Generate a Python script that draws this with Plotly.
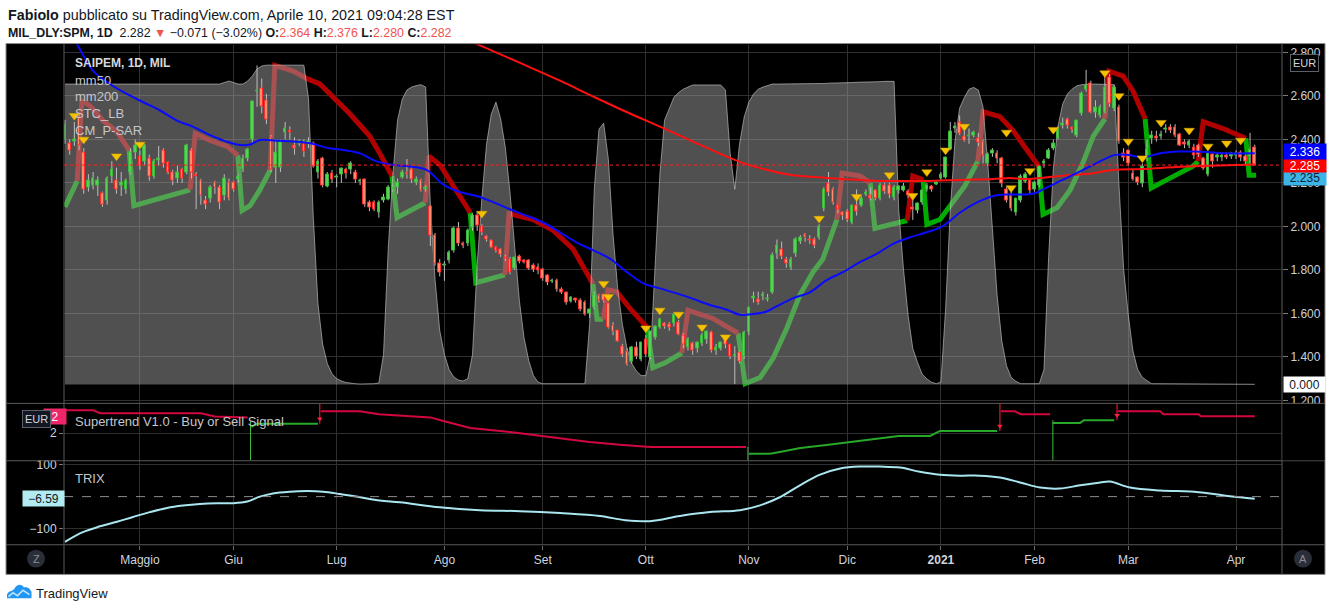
import plotly.graph_objects as go

W, H = 1335, 615
FONT = "Liberation Sans, Arial, sans-serif"


def fx(px):
    return px / W


def fy(py):
    return 1 - py / H


# ------------------------------------------------------------------ data
month_idx = [16, 36, 58, 81, 102, 124, 146, 167, 187, 207, 227, 250]
month_lbl = ["Maggio", "Giu", "Lug", "Ago", "Set", "Ott", "Nov", "Dic", "<b>2021</b>", "Feb", "Mar", "Apr"]
price_ticks = [1.2, 1.4, 1.6, 1.8, 2.0, 2.2, 2.4, 2.6, 2.8]

opens = [
    2.40, 2.38, 2.39, 2.50, 2.34, 2.18, 2.19, 2.19, 2.15, 2.12,
    2.23, 2.21, 2.19, 2.17, 2.25, 2.34, 2.32, 2.30, 2.31, 2.23,
    2.305, 2.35, 2.295, 2.25, 2.22, 2.26, 2.25, 2.35, 2.24, 2.21,
    2.12, 2.13, 2.20, 2.18, 2.14, 2.20, 2.20, 2.215, 2.26, 2.31,
    2.40, 2.62, 2.636, 2.58, 2.41, 2.27, 2.27, 2.43, 2.44, 2.37,
    2.38, 2.38, 2.38, 2.38, 2.25, 2.31, 2.185, 2.245, 2.225, 2.24,
    2.26, 2.26, 2.25, 2.205, 2.215, 2.11, 2.11, 2.065, 2.12, 2.125,
    2.17, 2.18, 2.225, 2.25, 2.26, 2.20, 2.21, 2.17, 2.09, 1.96,
    1.83, 1.82, 1.845, 1.89, 1.99, 1.92, 1.92, 1.995, 2.05, 2.00,
    1.955, 1.935, 1.905, 1.895, 1.855, 1.85, 1.806, 1.86, 1.843, 1.842,
    1.82, 1.81, 1.80, 1.776, 1.745, 1.75, 1.71, 1.697, 1.655, 1.668,
    1.66, 1.65, 1.60, 1.625, 1.682, 1.685, 1.647, 1.544, 1.52, 1.45,
    1.427, 1.38, 1.445, 1.39, 1.48, 1.397, 1.488, 1.536, 1.552, 1.55,
    1.552, 1.56, 1.50, 1.445, 1.46, 1.44, 1.46, 1.48, 1.51, 1.43,
    1.44, 1.485, 1.458, 1.40, 1.42, 1.40, 1.51, 1.67, 1.662, 1.677,
    1.665, 1.697, 1.874, 1.894, 1.85, 1.81, 1.874, 1.93, 1.962, 1.94,
    1.94, 1.947, 2.083, 2.197, 2.17, 2.094, 2.064, 2.07, 2.018, 2.098,
    2.097, 2.147, 2.142, 2.167, 2.13, 2.188, 2.19, 2.132, 2.165, 2.167,
    2.16, 2.087, 2.071, 2.11, 2.17, 2.182, 2.192, 2.218, 2.223, 2.355,
    2.45, 2.477, 2.415, 2.415, 2.42, 2.404, 2.39, 2.29, 2.333, 2.336,
    2.314, 2.17, 2.147, 2.064, 2.12, 2.208, 2.21, 2.17, 2.188, 2.288,
    2.314, 2.36, 2.405, 2.465, 2.49, 2.457, 2.42, 2.518, 2.629, 2.658,
    2.526, 2.51, 2.526, 2.685, 2.541, 2.548, 2.336, 2.348, 2.245, 2.223,
    2.197, 2.31, 2.405, 2.415, 2.415, 2.444, 2.456, 2.457, 2.424, 2.385,
    2.374, 2.364, 2.374, 2.31, 2.238, 2.33, 2.318, 2.318, 2.328, 2.32,
    2.325, 2.342, 2.32, 2.32, 2.364]

highs = [
    2.49, 2.40, 2.48, 2.52, 2.36, 2.24, 2.25, 2.23, 2.16, 2.23,
    2.30, 2.27, 2.25, 2.22, 2.36, 2.40, 2.35, 2.38, 2.33, 2.31,
    2.37, 2.36, 2.30, 2.26, 2.28, 2.27, 2.38, 2.36, 2.25, 2.22,
    2.14, 2.19, 2.21, 2.19, 2.24, 2.22, 2.21, 2.24, 2.33, 2.36,
    2.58, 2.74, 2.68, 2.61, 2.42, 2.40, 2.40, 2.48, 2.46, 2.41,
    2.40, 2.40, 2.41, 2.39, 2.31, 2.32, 2.25, 2.26, 2.24, 2.27,
    2.27, 2.30, 2.26, 2.22, 2.22, 2.12, 2.12, 2.12, 2.15, 2.19,
    2.19, 2.22, 2.26, 2.31, 2.28, 2.23, 2.22, 2.19, 2.10, 1.97,
    1.85, 1.84, 1.89, 2.00, 2.02, 1.93, 1.99, 2.06, 2.07, 2.01,
    1.96, 1.94, 1.91, 1.90, 1.87, 1.86, 1.86, 1.87, 1.85, 1.85,
    1.83, 1.83, 1.81, 1.78, 1.76, 1.76, 1.72, 1.70, 1.68, 1.67,
    1.67, 1.66, 1.62, 1.70, 1.69, 1.69, 1.65, 1.56, 1.52, 1.46,
    1.44, 1.45, 1.47, 1.47, 1.50, 1.52, 1.545, 1.58, 1.56, 1.56,
    1.60, 1.57, 1.51, 1.49, 1.47, 1.47, 1.51, 1.52, 1.52, 1.46,
    1.47, 1.49, 1.46, 1.45, 1.43, 1.52, 1.63, 1.70, 1.70, 1.70,
    1.69, 1.88, 1.94, 1.93, 1.86, 1.86, 1.95, 1.96, 1.97, 1.96,
    1.95, 2.01, 2.18, 2.25, 2.18, 2.10, 2.07, 2.08, 2.10, 2.17,
    2.14, 2.17, 2.18, 2.17, 2.20, 2.20, 2.20, 2.19, 2.19, 2.20,
    2.17, 2.14, 2.11, 2.17, 2.20, 2.19, 2.21, 2.25, 2.32, 2.48,
    2.48, 2.51, 2.44, 2.45, 2.44, 2.43, 2.40, 2.34, 2.36, 2.35,
    2.32, 2.18, 2.16, 2.13, 2.24, 2.25, 2.22, 2.21, 2.28, 2.31,
    2.36, 2.40, 2.46, 2.50, 2.50, 2.46, 2.49, 2.62, 2.72, 2.67,
    2.58, 2.56, 2.69, 2.70, 2.65, 2.56, 2.36, 2.35, 2.26, 2.23,
    2.29, 2.40, 2.44, 2.44, 2.44, 2.47, 2.47, 2.47, 2.43, 2.40,
    2.40, 2.38, 2.38, 2.32, 2.34, 2.34, 2.34, 2.34, 2.34, 2.34,
    2.35, 2.35, 2.33, 2.43, 2.376]

lows = [
    2.38, 2.33, 2.37, 2.35, 2.15, 2.16, 2.17, 2.14, 2.09, 2.10,
    2.20, 2.15, 2.14, 2.15, 2.24, 2.31, 2.26, 2.28, 2.21, 2.22,
    2.28, 2.27, 2.24, 2.19, 2.20, 2.20, 2.24, 2.22, 2.08, 2.10,
    2.08, 2.11, 2.15, 2.08, 2.12, 2.12, 2.16, 2.20, 2.25, 2.30,
    2.38, 2.55, 2.52, 2.47, 2.25, 2.20, 2.25, 2.40, 2.40, 2.33,
    2.37, 2.32, 2.36, 2.27, 2.22, 2.18, 2.18, 2.20, 2.18, 2.20,
    2.22, 2.24, 2.20, 2.19, 2.09, 2.07, 2.07, 2.04, 2.11, 2.12,
    2.16, 2.15, 2.22, 2.22, 2.20, 2.19, 2.16, 2.16, 1.91, 1.82,
    1.77, 1.75, 1.83, 1.88, 1.91, 1.90, 1.91, 1.98, 1.98, 1.96,
    1.93, 1.90, 1.88, 1.86, 1.84, 1.78, 1.80, 1.83, 1.83, 1.80,
    1.79, 1.78, 1.75, 1.73, 1.74, 1.70, 1.69, 1.64, 1.65, 1.65,
    1.61, 1.59, 1.58, 1.62, 1.65, 1.65, 1.53, 1.50, 1.47, 1.40,
    1.36, 1.37, 1.39, 1.38, 1.40, 1.39, 1.48, 1.53, 1.53, 1.52,
    1.54, 1.50, 1.44, 1.43, 1.41, 1.42, 1.45, 1.46, 1.42, 1.41,
    1.43, 1.44, 1.39, 1.275, 1.37, 1.39, 1.50, 1.65, 1.64, 1.66,
    1.655, 1.69, 1.85, 1.85, 1.81, 1.80, 1.86, 1.92, 1.93, 1.92,
    1.90, 1.94, 2.07, 2.14, 2.10, 2.06, 2.03, 2.02, 2.01, 2.05,
    2.09, 2.14, 2.12, 2.12, 2.12, 2.15, 2.13, 2.12, 2.15, 2.16,
    2.13, 2.03, 2.06, 2.10, 2.16, 2.16, 2.19, 2.21, 2.22, 2.35,
    2.43, 2.42, 2.39, 2.38, 2.41, 2.37, 2.29, 2.28, 2.32, 2.29,
    2.18, 2.11, 2.07, 2.05, 2.11, 2.20, 2.15, 2.16, 2.18, 2.27,
    2.31, 2.35, 2.40, 2.45, 2.45, 2.43, 2.41, 2.51, 2.62, 2.52,
    2.50, 2.50, 2.52, 2.55, 2.53, 2.38, 2.30, 2.28, 2.21, 2.19,
    2.18, 2.30, 2.38, 2.39, 2.40, 2.43, 2.43, 2.41, 2.37, 2.36,
    2.36, 2.31, 2.32, 2.26, 2.23, 2.27, 2.30, 2.30, 2.31, 2.31,
    2.31, 2.30, 2.28, 2.29, 2.280]

closes = [
    2.47, 2.35, 2.40, 2.37, 2.17, 2.21, 2.22, 2.21, 2.10, 2.22,
    2.26, 2.17, 2.20, 2.21, 2.34, 2.37, 2.28, 2.37, 2.23, 2.30,
    2.31, 2.29, 2.25, 2.21, 2.25, 2.22, 2.37, 2.25, 2.23, 2.14,
    2.10, 2.18, 2.18, 2.11, 2.22, 2.13, 2.17, 2.23, 2.31, 2.355,
    2.576, 2.625, 2.55, 2.49, 2.26, 2.34, 2.385, 2.45, 2.43, 2.36,
    2.39, 2.345, 2.39, 2.275, 2.30, 2.19, 2.24, 2.215, 2.23, 2.265,
    2.245, 2.29, 2.215, 2.21, 2.10, 2.085, 2.08, 2.11, 2.135, 2.18,
    2.18, 2.20, 2.25, 2.24, 2.215, 2.215, 2.165, 2.18, 1.96, 1.83,
    1.79, 1.825, 1.88, 1.99, 1.92, 1.91, 1.98, 2.05, 2.005, 1.97,
    1.94, 1.905, 1.89, 1.87, 1.852, 1.786, 1.855, 1.84, 1.836, 1.806,
    1.80, 1.795, 1.76, 1.742, 1.75, 1.71, 1.697, 1.65, 1.673, 1.66,
    1.62, 1.597, 1.617, 1.685, 1.658, 1.658, 1.533, 1.518, 1.473, 1.41,
    1.364, 1.445, 1.40, 1.465, 1.412, 1.518, 1.54, 1.572, 1.54, 1.535,
    1.594, 1.503, 1.455, 1.48, 1.43, 1.465, 1.50, 1.515, 1.43, 1.445,
    1.465, 1.455, 1.40, 1.41, 1.38, 1.51, 1.625, 1.68, 1.652, 1.685,
    1.67, 1.867, 1.912, 1.86, 1.83, 1.85, 1.94, 1.95, 1.947, 1.935,
    1.912, 2.00, 2.17, 2.155, 2.112, 2.079, 2.05, 2.033, 2.094, 2.067,
    2.13, 2.155, 2.13, 2.13, 2.19, 2.162, 2.147, 2.177, 2.182, 2.185,
    2.142, 2.076, 2.105, 2.167, 2.19, 2.17, 2.20, 2.238, 2.318, 2.435,
    2.458, 2.427, 2.397, 2.42, 2.43, 2.385, 2.325, 2.33, 2.348, 2.314,
    2.197, 2.12, 2.083, 2.127, 2.23, 2.238, 2.165, 2.20, 2.276, 2.298,
    2.348, 2.382, 2.45, 2.473, 2.465, 2.445, 2.485, 2.609, 2.647, 2.526,
    2.545, 2.548, 2.639, 2.564, 2.639, 2.39, 2.318, 2.29, 2.215, 2.203,
    2.276, 2.355, 2.42, 2.405, 2.424, 2.448, 2.44, 2.42, 2.374, 2.375,
    2.39, 2.324, 2.33, 2.268, 2.336, 2.30, 2.325, 2.326, 2.318, 2.333,
    2.336, 2.318, 2.298, 2.353, 2.282]

# mm50 / mm200 (bar index, price)
mm50_idx = [0, 2.6, 6.0, 9.6, 13.2, 16.7, 20.3, 23.8, 27.4, 31.0,
            34.5, 37.4, 39.5, 41.6, 45.2, 48.7, 52.3, 55.9, 59.4, 63.0,
            66.5, 70.1, 73.7, 77.2, 80.8, 84.3, 87.9, 91.4, 95.0, 98.6,
            102.1, 105.7, 109.2, 112.8, 116.4, 119.9, 123.5, 127.0, 130.6, 134.1,
            137.7, 141.3, 144.1, 146.9, 149.8, 151.9, 155.5, 159.0, 162.6, 166.2,
            169.7, 173.3, 176.8, 180.4, 184.0, 187.5, 191.1, 194.6, 198.2, 201.7,
            205.3, 207.4, 208.8, 212.4, 216.0, 219.5, 222.4, 224.2, 226.7, 230.2,
            233.8, 237.3, 240.9, 244.4, 248.0, 254.0]
mm50_val = [2.92, 2.836, 2.715, 2.655, 2.609, 2.571, 2.533, 2.488, 2.458, 2.42,
            2.39, 2.374, 2.377, 2.397, 2.394, 2.39, 2.382, 2.362, 2.351, 2.336,
            2.299, 2.283, 2.276, 2.26, 2.192, 2.158, 2.14, 2.112, 2.079, 2.049,
            2.018, 1.973, 1.927, 1.89, 1.851, 1.791, 1.738, 1.715, 1.692, 1.667,
            1.639, 1.617, 1.594, 1.597, 1.609, 1.632, 1.67, 1.697, 1.753, 1.791,
            1.836, 1.874, 1.92, 1.95, 1.973, 2.003, 2.064, 2.109, 2.14, 2.147,
            2.147, 2.155, 2.17, 2.208, 2.245, 2.283, 2.314, 2.329, 2.329, 2.318,
            2.336, 2.344, 2.344, 2.341, 2.336, 2.336]
mm200_idx = [80.0, 88.2, 91.4, 98.6, 105.7, 112.8, 119.9, 127.0, 134.1, 141.3,
             144.8, 148.4, 155.5, 162.6, 169.7, 176.8, 184.0, 191.1, 198.2, 201.7,
             205.3, 212.4, 219.5, 223.8, 230.2, 237.3, 244.4, 254.0]
mm200_val = [2.91, 2.836, 2.806, 2.738, 2.67, 2.597, 2.526, 2.459, 2.39, 2.321,
             2.291, 2.268, 2.235, 2.223, 2.214, 2.209, 2.209, 2.214, 2.218, 2.223,
             2.218, 2.232, 2.245, 2.26, 2.264, 2.273, 2.279, 2.285]

# STC_LB oscillator (0-100), one value per bar
stc_val = [
    100, 100, 100, 100, 100, 100, 100, 100, 100, 100,
    100, 100, 100, 100, 100, 100, 100, 100, 100, 100,
    100, 100, 100, 100, 100, 100, 100, 100, 100, 100,
    100, 100, 100, 100, 100.5, 101, 100.5, 100, 100, 101,
    102.7, 105, 106, 106.3, 106.3, 106.3, 106.3, 106.3, 106.3, 106.3,
    106.3, 106.3, 95, 56, 27, 13.5, 7, 3.6, 2, 1.2,
    0.7, 0.4, 0.3, 0.2, 0.2, 0.2, 0.3, 0.5, 10, 45,
    70, 88, 95, 98, 99, 99.5, 99.8, 99, 60, 35,
    18, 10, 5, 2.5, 1.5, 1.2, 2, 10, 40, 62,
    80, 90, 94, 88.5, 79, 64, 45, 28, 15.6, 8,
    3, 0.8, 0.3, 0.3, 0.3, 0.3, 0.3, 0.3, 0.3, 0.3,
    0.3, 0.3, 20, 65, 85, 87, 75, 50, 32, 20,
    12, 7, 4.5, 3, 3, 10, 40, 70, 88, 92,
    95.6, 97.2, 98.3, 99, 99.7, 99.7, 99.7, 99.7, 99.7, 99.7,
    99.7, 98, 77, 65, 80, 89, 94, 96.7, 98.3, 99,
    99.6, 100, 100, 100, 100, 100, 100, 100, 100, 100,
    100, 100.2, 100.2, 100.3, 100.3, 100.4, 100.4, 100.5, 100.5, 100.6,
    100.6, 100.7, 100.7, 100.8, 100.8, 100.9, 100.9, 100.9, 58, 38.6,
    23, 12, 7.4, 3.5, 1.9, 0.8, 0.3, 0.8, 25, 58,
    81, 92, 95.5, 98.3, 98.9, 98, 92.3, 73.7, 51.8, 29.8,
    14.5, 6.3, 2.4, 1.1, 0.3, 0.3, 0.3, 0.3, 0.3, 5,
    42.5, 72, 86, 93.4, 96.7, 98.3, 99.4, 99.8, 100, 100,
    100, 100, 100, 100, 99.8, 67, 38.6, 23.2, 11.2, 5.1,
    2.4, 1.3, 0.3, 0.3, 0.3, 0.3, 0.3, 0.3, 0.2, 0.2,
    0.2, 0.2, 0.2, 0.2, 0.2, 0.2, 0.1, 0.1, 0.1, 0.1,
    0.1, 0.1, 0.1, 0.1, 0.1]

# CM_P-SAR style trailing stop (bar index, price, trend +1 bull / -1 bear)
stop_idx = [0, 2.6, 3.6, 5.3, 8.1, 11.1, 13.7, 14.7, 26.7, 27.8, 31.0, 34.6, 36.9,
            37.8, 39.5, 41.6, 43.8, 44.8, 48.7, 51.9, 54.4, 57.2, 60.8, 64.0, 65.1, 67.2, 69.8,
            70.9, 76.9, 77.7, 80.1, 82.8, 86.5, 87.7, 93.9, 94.8, 99.9, 104.2, 108.5, 112.7,
            113.6, 114.9, 115.9, 117.8, 120.6, 124.3, 125.5, 128.1, 131.7, 133.0, 138.3, 143.7,
            145.2, 148.4, 151.2, 154.1, 156.9, 159.7, 161.8, 164.8, 165.9, 169.7, 171.9,
            172.9, 179.8, 181.0, 183.2, 184.0, 186.8, 189.6, 192.1, 194.9,
            196.0, 199.6, 202.4, 205.4, 207.9, 208.8, 211.8, 214.6, 217.3, 219.5, 222.0,
            222.9, 225.9, 228.0, 230.6, 231.9, 235.2, 240.8, 241.9, 243.0, 247.2, 252.1,
            252.8, 254.3]
stop_val = [2.09, 2.209, 2.577, 2.555, 2.486, 2.436, 2.35, 2.095, 2.168, 2.427, 2.395, 2.368, 2.327,
            2.073, 2.095, 2.168, 2.259, 2.741, 2.714, 2.677, 2.655, 2.595, 2.518, 2.441, 2.414, 2.336, 2.232,
            2.041, 2.109, 2.323, 2.282, 2.186, 2.064, 1.741, 1.777, 2.059, 2.032, 1.982, 1.895, 1.736,
            1.573, 1.573, 1.709, 1.70, 1.623, 1.536, 1.35, 1.373, 1.418, 1.614, 1.577, 1.509,
            1.277, 1.305, 1.395, 1.532, 1.686, 1.791, 1.85, 2.032, 2.245, 2.232, 2.20,
            1.991, 2.027, 2.232, 2.214, 2.009, 2.032, 2.109, 2.186, 2.30,
            2.527, 2.505, 2.441, 2.35, 2.277, 2.055, 2.086, 2.168, 2.291, 2.414, 2.495,
            2.714, 2.691, 2.623, 2.495, 2.177, 2.214, 2.277, 2.30, 2.482, 2.45, 2.405,
            2.235, 2.235]
stop_trend = [1, 1, -1, -1, -1, -1, -1, 1, 1, -1, -1, -1, -1,
              1, 1, 1, 1, -1, -1, -1, -1, -1, -1, -1, -1, -1, -1,
              1, 1, -1, -1, -1, -1, 1, 1, -1, -1, -1, -1, -1,
              1, 1, -1, -1, -1, -1, 1, 1, 1, -1, -1, -1,
              1, 1, 1, 1, 1, 1, 1, 1, -1, -1, -1,
              1, 1, -1, -1, 1, 1, 1, 1, 1,
              -1, -1, -1, -1, -1, 1, 1, 1, 1, 1, 1,
              -1, -1, -1, -1, 1, 1, 1, 1, -1, -1, -1,
              1, 1]

# yellow triangle signals (bar index, price)
tri_idx = [2, 4, 11, 16, 89, 115, 116, 124, 127, 131, 136, 141, 161, 169, 176, 181,
           184, 188, 192, 201, 202, 206, 211, 222, 225, 227, 230, 234, 240, 244, 248, 251]
tri_val = [2.509, 2.40, 2.323, 2.377, 2.059, 1.736, 1.677, 1.532, 1.614, 1.595, 1.536, 1.491,
           2.036, 2.136, 2.236, 2.141, 2.25, 2.35, 2.459, 2.432, 2.177, 2.255, 2.445, 2.705,
           2.60, 2.391, 2.314, 2.477, 2.441, 2.368, 2.382, 2.395]

# Supertrend V1.0
st_idx = [0, 6, 7.5, 29, 32, 39,
          39.8, 41, 54,
          54.6, 63, 67, 78, 81, 86.5, 95, 105.7, 112, 118.5, 125, 145.4,
          146, 150.5, 152.6, 157, 163, 169.7, 174, 178, 184.7, 186.8, 199,
          199.8, 202.8, 204, 210.3,
          210.9, 216.7, 217.5, 224,
          224.8, 233.8, 234.5, 242, 242.5, 254]
st_val = [2.64, 2.64, 2.556, 2.556, 2.465, 2.44,
          2.17, 2.26, 2.26,
          2.61, 2.61, 2.53, 2.44, 2.33, 2.14, 2.03, 1.86, 1.75, 1.67, 1.61, 1.61,
          1.42, 1.42, 1.47, 1.58, 1.67, 1.78, 1.86, 1.92, 1.92, 2.06, 2.06,
          2.61, 2.61, 2.53, 2.53,
          2.28, 2.28, 2.36, 2.36,
          2.61, 2.61, 2.53, 2.53, 2.47, 2.47]
st_trend = [-1, -1, -1, -1, -1, -1,
            1, 1, 1,
            -1, -1, -1, -1, -1, -1, -1, -1, -1, -1, -1, -1,
            1, 1, 1, 1, 1, 1, 1, 1, 1, 1, 1,
            -1, -1, -1, -1,
            1, 1, 1, 1,
            -1, -1, -1, -1, -1, -1]
st_sig_idx = [39.6, 54.4, 145.8, 199.6, 210.9, 224.6]
st_sig_dir = [1, -1, 1, -1, 1, -1]
st_sig_val = [2.33, 2.26, 1.61, 2.06, 2.36, 2.36]

# TRIX
trix_idx = [0, 3.8, 7.5, 11.1, 14.5, 18.1, 21.8, 25.2, 28.8, 32.5,
            35.9, 38.9, 41.6, 44.4, 48.0, 51.7, 55.1, 58.7, 63.0, 67.2,
            71.5, 80.0, 88.6, 97.1, 105.7, 114.2, 119.6, 124.9, 131.3, 137.7,
            144.1, 148.4, 152.6, 156.9, 161.2, 165.5, 169.7, 174.0, 178.3, 182.5,
            186.8, 191.1, 195.3, 199.6, 203.9, 208.2, 212.4, 216.7, 221.0, 223.1,
            227.4, 233.8, 240.2, 244.4, 248.7, 254.0]
trix_val = [-140, -110, -92, -78, -63, -48, -35, -27.6, -22.7, -20.5,
            -20.5, -15.3, 0, 10, 15.3, 17.2, 15.3, 8, -2, -12,
            -17.5, -33, -42, -45, -51, -60, -73, -76, -60, -48,
            -42, -27, -2, 35, 68, 87, 93, 93, 90, 77,
            68, 65, 65, 59, 44, 28, 25, 35, 44, 47,
            28, 19, 16, 10, 1, -6.59]

# ------------------------------------------------------------------ geometry
PL, PRX = 64, 1282
MAIN = (42, 405)
STP = (405, 463)
TRP = (463, 548)
X_RANGE = [-0.2135, 259.82]
P_RANGE = [1.18636, 2.83636]
STC_RANGE = [-6.25, 113.16]
ST_RANGE = [1.2222, 2.8333]
TR_RANGE = [-149.16, 111.18]


def vpy(v, pane, rng):
    return pane[0] + (rng[1] - v) / (rng[1] - rng[0]) * (pane[1] - pane[0])


GRID = "#2f2f2f"
SEP = "#5a5a5a"
TXT = "#d1d4dc"
RED_TXT = "#ef5350"

n = len(closes)
xs = list(range(n))


def make_runs(xv, yv, tv, connect):
    runs = []
    for k in range(min(len(xv), len(yv), len(tv))):
        if k == 0 or tv[k] != tv[k - 1]:
            pts = [(xv[k - 1], yv[k - 1])] if (connect and k > 0) else []
            runs.append([tv[k], pts])
        runs[-1][1].append((xv[k], yv[k]))
    return runs


def join_runs(runs, t):
    X, Y = [], []
    for tt, pts in runs:
        if tt != t:
            continue
        X += [p[0] for p in pts] + [None]
        Y += [p[1] for p in pts] + [None]
    return X, Y


fig = go.Figure()

# 1) thick trailing stop (bottom layer, main subplot)
stop_runs = make_runs(stop_idx, stop_val, stop_trend, True)
for t, col in [(1, "rgb(0,172,0)"), (-1, "rgb(178,0,0)")]:
    X, Y = join_runs(stop_runs, t)
    fig.add_trace(go.Scatter(x=X, y=Y, mode="lines", line=dict(color=col, width=5),
                             xaxis="x", yaxis="y", hoverinfo="skip"))

# 2) STC area (semi transparent, overlays the stop lines)
fig.add_trace(go.Scatter(x=xs, y=stc_val, mode="lines", fill="tozeroy",
                         fillcolor="rgba(160,160,160,0.5)",
                         line=dict(color="rgba(205,205,205,0.6)", width=1),
                         xaxis="x", yaxis="y2", hoverinfo="skip"))

# 3) wicks
wx, wy = [], []
for i in range(n):
    wx += [i, i, None]
    wy += [lows[i], highs[i], None]
fig.add_trace(go.Scatter(x=wx, y=wy, mode="lines", line=dict(color="#bdbdbd", width=1),
                         xaxis="x", yaxis="y3", hoverinfo="skip"))

# 4) candle bodies + averages + triangles
inc = [c >= o for o, c in zip(opens, closes)]
base = [min(o, c) for o, c in zip(opens, closes)]
hgt = [max(abs(c - o), 0.003) for o, c in zip(opens, closes)]
fig.add_trace(go.Bar(x=xs, y=hgt, base=base, width=0.56,
                     marker=dict(color=["#57d157" if u else "#ff8d6e" for u in inc],
                                 line=dict(color=["#3cb83c" if u else "#ff2b2b" for u in inc], width=1)),
                     xaxis="x", yaxis="y4", hoverinfo="skip"))
fig.add_trace(go.Scatter(x=mm200_idx, y=mm200_val, mode="lines", line=dict(color="#ff1010", width=2, shape="spline"),
                         xaxis="x", yaxis="y4", hoverinfo="skip"))
fig.add_trace(go.Scatter(x=mm50_idx, y=mm50_val, mode="lines", line=dict(color="#0a0aff", width=2, shape="spline"),
                         xaxis="x", yaxis="y4", hoverinfo="skip"))
fig.add_trace(go.Scatter(x=tri_idx, y=tri_val, mode="markers",
                         marker=dict(symbol="triangle-down", size=9, color="#f6c200",
                                     line=dict(color="#d9a400", width=0.5)),
                         xaxis="x", yaxis="y4", hoverinfo="skip"))

# 5) Supertrend pane
st_runs = make_runs(st_idx, st_val, st_trend, False)
for t, col in [(1, "#28a828"), (-1, "#d2073f")]:
    X, Y = join_runs(st_runs, t)
    fig.add_trace(go.Scatter(x=X, y=Y, mode="lines", line=dict(color=col, width=2),
                             xaxis="x2", yaxis="y5", hoverinfo="skip"))
sx, sy, ax_, ay_ = [], [], [], []
for i, d, v in zip(st_sig_idx, st_sig_dir, st_sig_val):
    if d > 0:
        sx += [i, i, None]
        sy += [v, ST_RANGE[0], None]
for i, d, v in zip(st_sig_idx, st_sig_dir, st_sig_val):
    if d < 0:
        ax_ += [i, i, None]
        ay_ += [ST_RANGE[1], v, None]
fig.add_trace(go.Scatter(x=sx, y=sy, mode="lines", line=dict(color="#3cbf3c", width=1),
                         xaxis="x2", yaxis="y5", hoverinfo="skip"))
fig.add_trace(go.Scatter(x=ax_, y=ay_, mode="lines", line=dict(color="#ff1f3f", width=1),
                         xaxis="x2", yaxis="y5", hoverinfo="skip"))
fig.add_trace(go.Scatter(x=[i for i, d in zip(st_sig_idx, st_sig_dir) if d < 0],
                         y=[v + 0.14 for v, d in zip(st_sig_val, st_sig_dir) if d < 0],
                         mode="markers", marker=dict(symbol="triangle-down", size=5, color="#ff1f3f"),
                         xaxis="x2", yaxis="y5", hoverinfo="skip"))

# 6) TRIX pane
fig.add_trace(go.Scatter(x=trix_idx, y=trix_val, mode="lines",
                         line=dict(color="#a9e6f0", width=2, shape="spline"),
                         xaxis="x3", yaxis="y6", hoverinfo="skip"))

# ------------------------------------------------------------------ layout
xcommon = dict(domain=[fx(PL), fx(PRX)], range=X_RANGE, tickvals=month_idx, showgrid=True,
               gridcolor=GRID, gridwidth=1, zeroline=False, showline=False, fixedrange=True)
fig.update_layout(
    width=W, height=H, autosize=False,
    margin=dict(l=0, r=0, t=0, b=0, pad=0),
    paper_bgcolor="white", plot_bgcolor="rgba(0,0,0,0)",
    showlegend=False, hovermode=False, bargap=0,
    font=dict(family=FONT, color=TXT, size=12),
    xaxis=dict(**xcommon, anchor="y", showticklabels=False, ticks=""),
    xaxis2=dict(**xcommon, anchor="y5", matches="x", showticklabels=False, ticks=""),
    xaxis3=dict(**xcommon, anchor="y6", matches="x", showticklabels=True, ticktext=month_lbl,
                ticks="outside", ticklen=4, tickcolor="#6b6b6b",
                tickfont=dict(size=12, color=TXT, family=FONT)),
    yaxis=dict(domain=[fy(MAIN[1]), fy(MAIN[0])], range=P_RANGE, anchor="x", side="right",
               tickvals=price_ticks, ticktext=["%.3f" % v for v in price_ticks],
               ticks="outside", ticklen=5, tickcolor="#7a7a7a", showgrid=True, gridcolor=GRID,
               zeroline=False, showline=False, fixedrange=True,
               tickfont=dict(size=12, color="#cfd1d6", family=FONT)),
    yaxis2=dict(overlaying="y", anchor="x", range=STC_RANGE, visible=False, fixedrange=True),
    yaxis3=dict(overlaying="y", anchor="x", range=P_RANGE, visible=False, fixedrange=True),
    yaxis4=dict(overlaying="y", anchor="x", range=P_RANGE, visible=False, fixedrange=True),
    yaxis5=dict(domain=[fy(STP[1]), fy(STP[0])], range=ST_RANGE, anchor="x2", side="left",
                tickvals=[2], ticktext=["2"], ticks="outside", ticklen=4, tickcolor="#7a7a7a",
                showgrid=True, gridcolor=GRID, zeroline=False, showline=False, fixedrange=True,
                tickfont=dict(size=12, color=TXT, family=FONT)),
    yaxis6=dict(domain=[fy(TRP[1]), fy(TRP[0])], range=TR_RANGE, anchor="x3", side="left",
                tickvals=[100, -100], ticktext=["100", "\u2212100"], ticks="outside", ticklen=4,
                tickcolor="#7a7a7a", showgrid=True, gridcolor=GRID, zeroline=False, showline=False,
                fixedrange=True, tickfont=dict(size=12, color=TXT, family=FONT)),
)

# ------------------------------------------------------------------ shapes
shapes = []
shapes.append(dict(type="rect", xref="paper", yref="paper", x0=fx(6), x1=fx(1325), y0=fy(578), y1=fy(41),
                   fillcolor="black", line=dict(color="#8c8c8c", width=1), layer="below"))
for yy in (405, 463, 548):
    shapes.append(dict(type="line", xref="paper", yref="paper", x0=fx(6), x1=fx(1325), y0=fy(yy), y1=fy(yy),
                       line=dict(color=SEP, width=1), layer="above"))
for xx in (PL, PRX):
    shapes.append(dict(type="line", xref="paper", yref="paper", x0=fx(xx), x1=fx(xx), y0=fy(41), y1=fy(578),
                       line=dict(color=SEP, width=1), layer="above"))
# cover of the right scale inside the supertrend pane
shapes.append(dict(type="rect", xref="paper", yref="paper", x0=fx(1282.6), x1=fx(1324.4), y0=fy(462.5), y1=fy(405.6),
                   fillcolor="black", line=dict(width=0), layer="above"))
# last price dotted line
shapes.append(dict(type="line", xref="paper", yref="y", x0=fx(PL), x1=fx(PRX), y0=closes[-1], y1=closes[-1],
                   line=dict(color="#ff2020", width=1, dash="dot"), layer="above"))
# TRIX zero line
shapes.append(dict(type="line", xref="paper", yref="y6", x0=fx(PL), x1=fx(PRX), y0=0, y1=0,
                   line=dict(color="#8d8d8d", width=1, dash="dash"), layer="above"))
# Z / A buttons
for cx in (36, 1303):
    shapes.append(dict(type="circle", xref="paper", yref="paper", x0=fx(cx - 9), x1=fx(cx + 9),
                       y0=fy(571), y1=fy(553), fillcolor="#2a2e39", line=dict(width=0), layer="above"))


def path(points, close=True):
    s = "M " + " L ".join("%.5f,%.5f" % (fx(x), fy(y)) for x, y in points)
    return s + (" Z" if close else "")


cloud = [(7, 602), (7, 598), (9, 595.5), (12, 594.5), (14, 593), (16, 590), (19, 588.5), (22, 589),
         (24, 591), (27, 591), (29.5, 592.5), (31.5, 595.5), (31.5, 602)]
shapes.append(dict(type="path", xref="paper", yref="paper", path=path(cloud), fillcolor="#2196f3",
                   line=dict(width=0), layer="above"))
shapes.append(dict(type="path", xref="paper", yref="paper",
                   path=path([(8.5, 600.5), (13, 596.5), (17.5, 599.5), (23, 594), (29.5, 598.5)], close=False),
                   line=dict(color="#bfe3ff", width=1.6), layer="above"))
fig.update_layout(shapes=shapes)

# ------------------------------------------------------------------ annotations
anns = []


def ann(text, x, y, size=13, color=TXT, xanchor="left", **kw):
    d = dict(text=text, x=fx(x), y=fy(y), xref="paper", yref="paper", showarrow=False,
             font=dict(size=size, color=color, family=FONT), xanchor=xanchor, yanchor="middle")
    d.update(kw)
    return d


o, h, l, c = opens[-1], highs[-1], lows[-1], closes[-1]
chg = c - closes[-2]
pct = chg / closes[-2] * 100
sp = "\u00a0"
anns.append(ann("<b>FabioIo</b> pubblicato su TradingView.com, Aprile 10, 2021 09:04:28 EST", 6, 12,
                size=14.3, color="#131722"))
line2 = ("<b>MIL_DLY:SPM, 1D</b>" + sp + sp + "%.3f " % c +
         '<span style="color:%s">\u25bc</span> ' % RED_TXT +
         "\u2212%.3f (\u2212%.2f%%) " % (abs(chg), abs(pct)) +
         '<b>O:</b><span style="color:%s">%.3f</span> ' % (RED_TXT, o) +
         '<b>H:</b><span style="color:%s">%.3f</span> ' % (RED_TXT, h) +
         '<b>L:</b><span style="color:%s">%.3f</span> ' % (RED_TXT, l) +
         '<b>C:</b><span style="color:%s">%.3f</span>' % (RED_TXT, c))
anns.append(ann(line2, 6, 30, size=12.4, color="#131722"))

# pane legends
anns.append(ann("<b>SAIPEM, 1D, MIL</b>", 73, 61, size=12, color="#d6d8dd"))
for txt, yy in [("mm50", 78), ("mm200", 95), ("STC_LB", 112), ("CM_P-SAR", 129)]:
    anns.append(ann(txt, 73, yy, size=13, color="#c4c6cb"))
anns.append(ann("Supertrend V1.0 - Buy or Sell Signal", 73, 423, size=13, color="#c4c6cb"))
anns.append(ann("TRIX", 73, 481, size=13, color="#c4c6cb"))

# right scale value boxes (stacked like the TradingView price scale)
anns.append(ann("%.3f" % mm50_val[-1], 1283, 151, size=12, color="#ffffff",
                bgcolor="#0000ff", width=40, height=14, borderpad=1, align="center"))
anns.append(ann("%.3f" % stop_val[-1], 1283, 177, size=12, color="#0e2236",
                bgcolor="#3cb4e6", width=40, height=12, borderpad=1, align="center"))
anns.append(ann("%.3f" % mm200_val[-1], 1283, 164.5, size=12, color="#ffffff",
                bgcolor="#ff0000", width=40, height=10, borderpad=1, align="center"))
anns.append(ann("%.3f" % 0, 1283, vpy(0, MAIN, STC_RANGE), size=12, color="#131722",
                bgcolor="#ffffff", width=39, height=13, borderpad=1, align="center"))
anns.append(ann("EUR", 1290, 61, size=11, color=TXT, bordercolor="#5d606b", borderwidth=1,
                borderpad=2, bgcolor="black"))

# left scale boxes
anns.append(ann("%.0f" % st_val[-1], 43, vpy(st_val[-1], STP, ST_RANGE), size=12, color="#ffffff",
                bgcolor="#f0266b", width=20, height=13, borderpad=1, align="center"))
anns.append(ann("EUR", 22, 421, size=11, color=TXT, bordercolor="#5d606b", borderwidth=1,
                borderpad=2, bgcolor="#131722"))
anns.append(ann("\u2212%.2f" % abs(trix_val[-1]), 22, vpy(trix_val[-1], TRP, TR_RANGE), size=12,
                color="#131722", bgcolor="#b2ebf2", width=39, height=13, borderpad=1, align="center"))

# buttons and footer
anns.append(ann("Z", 36, 562, size=11, color="#8a8d96", xanchor="center"))
anns.append(ann("A", 1303, 562, size=11, color="#8a8d96", xanchor="center"))
anns.append(ann("TradingView", 34, 597, size=13, color="#131722"))
fig.update_layout(annotations=anns)

fig.write_html("out.html", config={"displayModeBar": False},
               post_script="document.body.style.margin='0';document.body.style.overflow='hidden';")
